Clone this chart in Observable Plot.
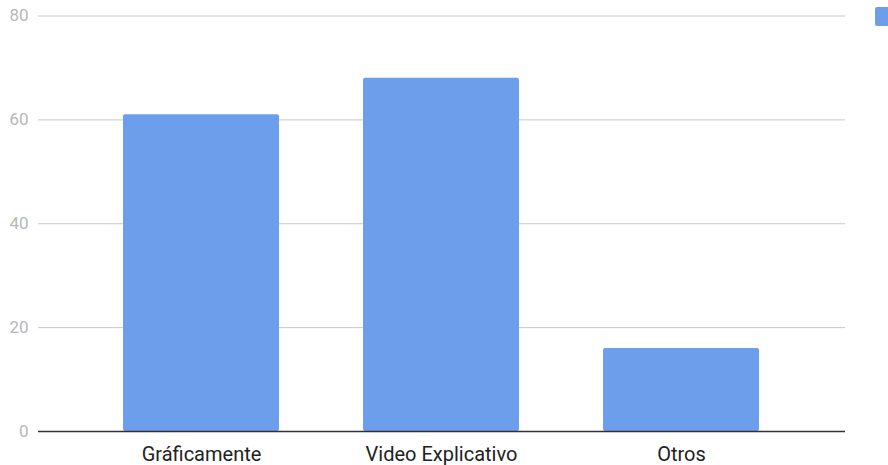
<!DOCTYPE html>
<html>
<head>
<meta charset="utf-8">
<script src="https://cdn.jsdelivr.net/npm/d3@7"></script>
<script src="https://cdn.jsdelivr.net/npm/@observablehq/plot@0.6"></script>
<style>
  html, body { margin: 0; padding: 0; background: #fff; overflow: hidden; }
  #wrap { position: relative; width: 888px; height: 465px; }
  #swatch { position: absolute; left: 875px; top: 7px; width: 19px; height: 19px; background: #6d9eeb; border-radius: 2px; }
</style>
</head>
<body>
<div id="wrap"><div id="swatch"></div></div>
<script>
// Categories and their counts
const categories = ["Gráficamente", "Video Explicativo", "Otros"];
const values = [61, 68, 16];
const yTicks = [0, 20, 40, 60, 80];

const data = categories.map((c, i) => ({category: c, value: values[i]}));

const chart = Plot.plot({
  width: 888,
  height: 465,
  marginLeft: 38,
  marginRight: 43,
  marginTop: 15.5,
  marginBottom: 34,
  style: {fontFamily: "Roboto, sans-serif", background: "#fff"},
  x: {domain: categories, range: [79.75, 801.25], paddingInner: 0.35, paddingOuter: 0.175, label: null},
  y: {domain: [0, 80], label: null},
  marks: [
    Plot.ruleY(yTicks.filter(d => d > 0), {stroke: "#c8c8c8", strokeWidth: 1}),
    Plot.barY(data, {x: "category", y: "value", fill: "#6d9eeb", rx: 2}),
    Plot.ruleY([0], {stroke: "#333333", strokeWidth: 1.5}),
    Plot.axisY({ticks: yTicks, tickSize: 0, tickPadding: 10, fontSize: 17, color: "#b7b7b7", label: null}),
    Plot.axisX({tickSize: 0, tickPadding: 15, fontSize: 20, color: "#222222", label: null})
  ]
});
document.getElementById("wrap").prepend(chart);
</script>
</body>
</html>
